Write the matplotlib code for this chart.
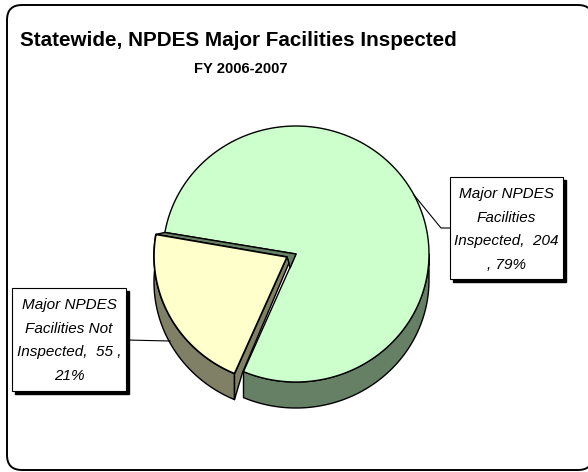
import numpy as np
import matplotlib
matplotlib.use('Agg')
import matplotlib.pyplot as plt
from matplotlib.patches import FancyBboxPatch, Polygon, Rectangle

title = 'Statewide, NPDES Major Facilities Inspected'
subtitle = 'FY 2006-2007'
values = [204, 55]
percents = [79, 21]
colors = ['#ccffcc', '#ffffcc']
side_colors = ['#668066', '#808066']

plt.rcParams['font.family'] = ['Liberation Sans', 'DejaVu Sans']

fig = plt.figure(figsize=(5.88, 4.72), dpi=100)
ax = fig.add_axes([0, 0, 1, 1])
ax.set_xlim(0, 588)
ax.set_ylim(472, 0)
ax.axis('off')

# pie shape in pixels, slightly squashed like the 3d excel pie
cx, cy = 296, 254
rx, ry = 133, 128
depth = 26
shift = (-9, 2)
start = 170.3
sweep = 360.0 * values[1] / sum(values)


def arc(a0, a1, dx=0, dy=0):
    t = np.radians(np.linspace(a0, a1, 200))
    return np.column_stack([cx + rx * np.cos(t) + dx, cy - ry * np.sin(t) + dy])


def poly(pts, fc, z, lw=1.0):
    ax.add_patch(Polygon(pts, closed=True, fc=fc, ec='black', lw=lw, zorder=z, joinstyle='round'))


# outer frame, runs off the right side of the picture
ax.add_patch(FancyBboxPatch((7, 5), 586, 465, boxstyle='round,pad=0,rounding_size=15',
                            fc='white', ec='black', lw=1.4, zorder=1))

end = start + sweep

# big slice, side then top
side = np.vstack([arc(end, 360), arc(end, 360, 0, depth)[::-1]])
poly(side, side_colors[0], 3)
top = np.vstack([[(cx, cy)], arc(end, 360 + start)])
poly(top, colors[0], 4)

# wall of the big slice seen through the gap
g_left = arc(start, start)[0]
y_apex = (cx + shift[0], cy + shift[1] + 1)
y_left = g_left + np.array(shift)
poly([g_left, (cx, cy), (cx - 6, cy + 14), y_apex, y_left], side_colors[0], 5)

# small slice pulled out
y_rim = arc(start, end, shift[0], shift[1])
y_side = np.vstack([y_rim, arc(start, end, shift[0], shift[1] + depth)[::-1]])
poly(y_side, side_colors[1], 6)
b = y_rim[-1]
poly([y_apex, b, (b[0], b[1] + depth), (b[0] + 8, b[1] - 1), (y_apex[0] + 2, y_apex[1] + 6)],
     side_colors[1], 6)
poly(np.vstack([[y_apex], y_rim]), colors[1], 7, lw=1.2)

# leader lines
ax.plot([414, 441, 450], [195, 228, 228], color='black', lw=0.8, zorder=8)
ax.plot([126, 170], [340, 341], color='black', lw=0.8, zorder=8)

# label boxes
labels = [
    ['Major NPDES', 'Facilities', 'Inspected,  %d' % values[0], ', %d%%' % percents[0]],
    ['Major NPDES', 'Facilities Not', 'Inspected,  %d ,' % values[1], '%d%%' % percents[1]],
]
boxes = [(450, 177, 113, 102), (12, 288, 114, 103)]
for lines, (x, y, w, h) in zip(labels, boxes):
    ax.add_patch(Rectangle((x + 3, y + 3), w, h, fc='black', ec='black', lw=1, zorder=9))
    ax.add_patch(Rectangle((x, y), w, h, fc='white', ec='black', lw=0.8, zorder=10))
    for i, line in enumerate(lines):
        ax.text(x + w / 2, y + 17 + i * 23.7, line, ha='center', va='center', fontsize=11,
                style='italic', zorder=11)

ax.text(20, 40, title, ha='left', va='center', fontsize=14.9, fontweight='bold', zorder=11)
ax.text(241, 69, subtitle, ha='center', va='center', fontsize=10.6, fontweight='bold', zorder=11)

fig.savefig('out.png', dpi=100)
